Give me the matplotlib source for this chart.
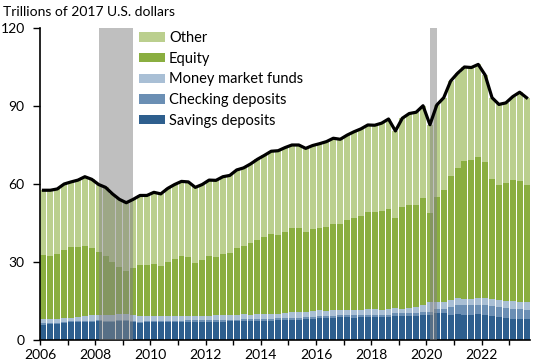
import numpy as np
import matplotlib
matplotlib.use("Agg")
from matplotlib import pyplot as plt
from matplotlib.transforms import ScaledTranslation

plt.rcParams['font.family'] = ['Lato', 'DejaVu Sans']

# quarterly, 2006Q1 .. 2023Q3 (trillions of 2017 U.S. dollars)
start_year = 2006
savings = [5.9, 6.2, 6.2, 6.4, 6.8, 6.8, 6.8, 6.8, 7.2, 6.8, 6.8, 7.2, 7.2, 6.8, 6.5, 6.9,
           6.9, 6.9, 6.9, 6.8, 6.8, 7.1, 7.1, 7.1, 7.1, 7.1, 7.1, 7.2, 7.2, 7.3, 7.3, 7.3,
           7.4, 7.4, 7.6, 7.7, 7.7, 7.7, 8.1, 8.1, 8.5, 8.5, 8.5, 8.8, 8.8, 8.5, 8.8, 8.8,
           8.8, 8.8, 8.8, 9.2, 9.2, 9.2, 9.2, 9.6, 9.6, 10.4, 10.4, 9.6, 10.0, 9.6, 9.6, 10.0,
           9.6, 9.2, 8.8, 8.5, 8.1, 8.1, 8.1]
checking = [0.45, 0.45, 0.45, 0.45, 0.45, 0.45, 0.45, 0.45, 0.45, 0.45, 0.45, 0.45, 0.45, 0.5, 0.5, 0.5,
            0.5, 0.5, 0.5, 0.5, 0.5, 0.55, 0.55, 0.55, 0.55, 0.55, 0.55, 0.55, 0.55, 0.8, 0.8, 0.8,
            0.8, 0.8, 0.8, 0.8, 0.8, 0.8, 0.9, 0.9, 0.9, 0.9, 0.9, 1.0, 1.0, 1.0, 1.0, 1.0,
            1.0, 1.0, 1.0, 1.0, 1.0, 1.0, 1.0, 1.2, 1.2, 1.6, 1.6, 3.2, 3.5, 3.9, 3.9, 3.5,
            3.9, 3.9, 4.0, 3.8, 3.9, 3.9, 3.4]
money_market = [1.55, 1.45, 1.45, 1.65, 1.25, 1.65, 1.95, 2.35, 1.85, 2.35, 2.35, 2.35, 2.35, 2.3, 2.2, 1.8,
                1.8, 1.8, 1.8, 1.9, 1.9, 1.55, 1.55, 1.55, 1.55, 1.95, 1.95, 1.85, 1.85, 1.9, 1.5, 1.9,
                1.8, 1.8, 1.6, 1.9, 2.3, 2.3, 1.8, 2.2, 2.1, 1.8, 2.1, 1.7, 1.7, 2.0, 1.7, 2.2,
                2.2, 1.7, 2.2, 2.1, 1.8, 2.1, 2.6, 2.7, 3.8, 2.6, 2.6, 2.6, 2.7, 2.3, 2.3, 2.7,
                2.7, 2.7, 2.6, 2.7, 3.0, 2.6, 3.1]
equity = [24.8, 24.2, 25.0, 26.1, 27.3, 26.9, 27.0, 25.8, 24.3, 22.7, 20.4, 18.1, 16.5, 18.1, 19.6, 19.6,
          20.0, 19.3, 20.8, 22.0, 23.1, 22.7, 20.4, 21.6, 23.1, 22.3, 23.5, 23.9, 25.8, 26.2, 27.7, 28.5,
          29.6, 30.8, 30.4, 31.1, 32.3, 32.3, 30.7, 31.5, 31.6, 32.3, 33.1, 33.1, 34.7, 35.4, 36.2, 37.2,
          37.2, 38.1, 38.4, 34.6, 39.2, 39.7, 39.2, 41.1, 34.2, 40.4, 43.1, 47.7, 50.0, 53.0, 53.4, 54.2,
          52.3, 46.1, 44.2, 45.4, 46.5, 46.6, 45.0]
other = [24.9, 25.3, 25.0, 25.4, 25.0, 25.7, 26.6, 26.4, 26.0, 26.4, 26.2, 26.0, 26.3, 26.4, 26.8, 26.8,
         27.6, 27.7, 28.3, 28.6, 28.7, 28.9, 29.1, 29.0, 29.2, 29.5, 29.7, 29.8, 30.0, 30.0, 30.4, 31.0,
         31.4, 31.8, 32.4, 32.5, 31.9, 31.9, 32.2, 32.1, 32.4, 32.8, 33.0, 32.6, 32.6, 33.2, 33.5, 33.5,
         33.4, 33.8, 34.6, 33.5, 34.1, 35.1, 35.6, 35.5, 34.0, 35.4, 35.5, 36.5, 36.4, 36.2, 35.6, 35.6,
         33.4, 31.3, 31.0, 30.8, 32.1, 34.1, 33.6]

series = [("Savings deposits", savings, "#2e5f8e"),
          ("Checking deposits", checking, "#6b8fb4"),
          ("Money market funds", money_market, "#a9bfd5"),
          ("Equity", equity, "#8aae40"),
          ("Other", other, "#bbcf8e")]

# recessions as (first quarter, last quarter)
recessions = [((2008, 1), (2009, 2)), ((2020, 1), (2020, 2))]

n = len(savings)
x = start_year + 0.125 + 0.25 * np.arange(n)

def qcenter(yq):
    return yq[0] + 0.25 * (yq[1] - 1) + 0.125

fig = plt.figure(figsize=(5.5, 3.64), dpi=100)
ax = fig.add_axes([40 / 550, 24 / 364, 490 / 550, 312 / 364])

bottom = np.zeros(n)
handles = []
for name, vals, col in series:
    vals = np.array(vals)
    b = ax.bar(x, vals, width=0.215, bottom=bottom, color=col, label=name, zorder=2, linewidth=0)
    handles.append(b)
    bottom = bottom + vals

for a, b in recessions:
    ax.axvspan(qcenter(a), qcenter(b), color="#808080", alpha=0.5, lw=0, zorder=3)

ax.plot(x, bottom, color="black", lw=2.3, zorder=4, solid_joinstyle="round")

ax.set_xlim(2006, 2023.75)
ax.set_ylim(0, 120)
ax.set_yticks([0, 30, 60, 90, 120])
years = list(range(2006, 2024))
ax.set_xticks(years)
ax.set_xticklabels([str(y) if y % 2 == 0 else "" for y in years])
shift = ScaledTranslation(4 / 100, 0, fig.dpi_scale_trans)
for lab in ax.get_xticklabels():
    lab.set_transform(lab.get_transform() + shift)
for s in ["top", "right"]:
    ax.spines[s].set_visible(False)
for s in ["left", "bottom"]:
    ax.spines[s].set_linewidth(1.2)
ax.tick_params(axis="y", length=5, width=1, pad=6, labelsize=10)
ax.tick_params(axis="x", length=3.5, width=1, pad=3, labelsize=10)

fig.text(3 / 550, 1 - 12 / 364, "Trillions of 2017 U.S. dollars", fontsize=10, va="center", ha="left")

ax.legend(handles[::-1], [s[0] for s in series][::-1], loc="upper left",
          bbox_to_anchor=(139 / 550, 1 - 31 / 364), bbox_transform=fig.transFigure,
          frameon=False, fontsize=10.5, borderpad=0, borderaxespad=0,
          handlelength=1.8, handleheight=0.62, handletextpad=0.25, labelspacing=0.46)

fig.savefig("out.png", dpi=100)
